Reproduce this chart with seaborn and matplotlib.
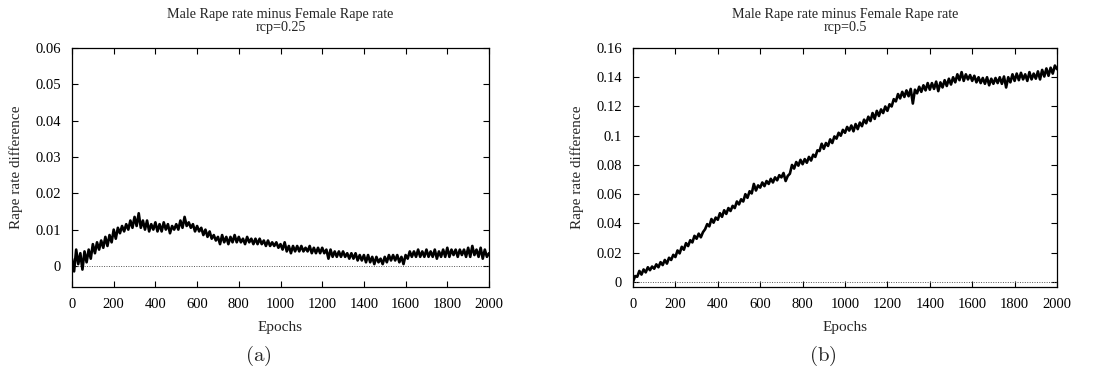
import numpy as np
import pandas as pd
import matplotlib
matplotlib.use("Agg")
import matplotlib.pyplot as plt
from matplotlib.ticker import FuncFormatter, MultipleLocator
import seaborn as sns

epochs = list(range(0, 2001, 10))

diff_rcp025 = [
    2.0, -1.5, 4.5, 0.5, 3.5, -1.0, 4.0, 1.0, 4.5, 2.0,
    6.0, 3.5, 6.5, 4.5, 7.0, 5.0, 8.0, 5.5, 8.5, 6.5,
    10.0, 7.5, 10.5, 9.0, 11.0, 9.5, 11.5, 10.0, 12.5, 10.5,
    13.5, 11.0, 14.5, 10.5, 12.5, 10.0, 12.5, 9.5, 11.5, 10.0,
    12.0, 9.5, 11.5, 9.5, 12.0, 10.0, 11.5, 9.0, 11.0, 10.0,
    11.5, 10.0, 12.5, 10.5, 13.5, 11.0, 12.0, 10.5, 11.5, 9.5,
    11.0, 9.5, 10.5, 8.5, 10.0, 8.0, 9.5, 7.5, 8.5, 7.0,
    8.0, 6.0, 8.5, 6.5, 8.0, 6.0, 8.0, 6.5, 8.5, 6.5,
    8.0, 6.5, 7.5, 6.0, 8.0, 6.5, 7.5, 6.0, 7.5, 6.0,
    7.5, 6.0, 7.0, 5.5, 7.0, 5.5, 6.5, 5.5, 6.5, 5.0,
    6.0, 4.5, 6.5, 4.0, 5.5, 3.5, 5.5, 4.0, 5.5, 4.0,
    5.5, 4.0, 5.0, 4.0, 5.5, 3.5, 5.0, 3.5, 5.0, 3.5,
    5.0, 3.5, 4.5, 2.0, 4.5, 2.5, 4.0, 2.5, 4.0, 2.5,
    4.0, 2.5, 3.5, 2.0, 3.5, 2.0, 3.5, 1.5, 3.0, 1.5,
    3.0, 1.0, 3.0, 1.0, 2.5, 0.5, 2.5, 1.0, 2.0, 0.5,
    2.5, 1.0, 3.0, 1.5, 3.0, 1.5, 3.0, 1.0, 2.5, 0.5,
    3.0, 2.0, 4.0, 2.5, 4.0, 2.5, 4.5, 2.5, 4.0, 2.5,
    4.5, 2.5, 4.0, 2.5, 4.5, 2.0, 4.0, 2.5, 4.5, 2.5,
    5.0, 2.5, 4.5, 3.0, 4.5, 2.5, 4.5, 3.0, 4.5, 2.5,
    5.0, 2.5, 5.5, 3.0, 4.5, 2.5, 5.0, 2.0, 4.5, 2.5,
    3.5,
]

diff_rcp05 = [
    0.0, 4.0, 3.5, 7.5, 5.0, 8.5, 6.5, 10.0, 8.0, 10.5,
    9.0, 12.0, 10.0, 13.5, 11.5, 15.0, 12.5, 16.5, 15.0, 18.5,
    17.0, 21.5, 19.5, 24.0, 22.0, 26.5, 24.5, 28.5, 27.0, 31.5,
    29.5, 33.0, 30.5, 34.0, 36.0, 39.5, 38.0, 43.0, 40.5, 44.0,
    42.5, 47.0, 44.5, 49.0, 46.5, 50.5, 48.5, 52.0, 50.5, 55.0,
    53.0, 56.5, 55.0, 60.0, 57.5, 62.0, 60.5, 67.0, 62.5, 66.0,
    64.5, 68.0, 65.5, 69.0, 67.0, 70.5, 68.0, 71.5, 69.5, 73.0,
    71.5, 74.5, 69.0, 72.5, 74.0, 80.0, 77.5, 82.0, 79.5, 83.5,
    80.5, 84.0, 81.5, 85.5, 83.0, 87.0, 85.5, 90.0, 89.5, 94.5,
    91.0, 95.0, 93.0, 97.5, 95.0, 99.5, 98.0, 102.0, 100.0, 104.0,
    102.0, 106.0, 103.5, 107.0, 103.0, 108.0, 104.5, 109.0, 106.5, 111.0,
    108.5, 113.0, 110.0, 115.5, 111.5, 117.0, 113.5, 118.0, 115.5, 120.0,
    117.0, 121.5, 120.0, 125.0, 123.5, 128.5, 125.5, 130.0, 126.5, 131.0,
    127.0, 132.0, 122.0, 131.5, 129.0, 133.5, 130.0, 134.5, 131.0, 136.0,
    131.5, 136.0, 132.0, 137.0, 130.5, 136.5, 133.0, 138.0, 134.0, 139.0,
    135.0, 140.0, 136.5, 142.0, 138.0, 143.5, 137.5, 142.0, 138.5, 141.5,
    137.5, 141.0, 136.5, 140.0, 136.0, 139.5, 135.5, 140.0, 134.5, 139.0,
    135.5, 139.5, 136.0, 140.0, 135.5, 140.5, 133.0, 140.0, 136.5, 142.0,
    137.5, 142.5, 138.0, 143.0, 138.5, 142.0, 137.5, 143.5, 138.5, 142.5,
    139.0, 144.0, 138.5, 145.0, 140.5, 146.0, 141.0, 146.5, 142.5, 148.0,
    145.5,
]

panel_titles = ["Male Rape rate minus Female Rape rate\nrcp=0.25",
                "Male Rape rate minus Female Rape rate\nrcp=0.5"]
panel_tags = ["(a)", "(b)"]
y_limits = [(-0.0058, 0.06), (-0.0035, 0.16)]
y_steps = [0.01, 0.02]

sns.set_style("ticks")
plt.rcParams["font.family"] = ["Liberation Serif", "DejaVu Serif"]
plt.rcParams["mathtext.fontset"] = "cm"

df = pd.DataFrame({
    "Epochs": epochs + epochs,
    "diff": np.array(diff_rcp025 + diff_rcp05) / 1000.0,
    "panel": ["a"] * len(epochs) + ["b"] * len(epochs),
})

fig = plt.figure(figsize=(11.07, 3.76), dpi=100)
ax_a = fig.add_axes([72 / 1107, 89 / 376, 417 / 1107, 239 / 376])
ax_b = fig.add_axes([633 / 1107, 89 / 376, 424 / 1107, 239 / 376])

for ax, key, title, tag, ylim, step in zip(
        [ax_a, ax_b], ["a", "b"], panel_titles, panel_tags, y_limits, y_steps):
    sub = df[df["panel"] == key]
    ax.axhline(0, color="#555555", linestyle=(0, (1, 1.5)), linewidth=0.7, zorder=1)
    sns.lineplot(data=sub, x="Epochs", y="diff", ax=ax, color="black",
                 linewidth=1.9, estimator=None, zorder=3)
    ax.set_xlim(0, 2000)
    ax.set_ylim(*ylim)
    ax.xaxis.set_major_locator(MultipleLocator(200))
    ax.yaxis.set_major_locator(MultipleLocator(step))
    ax.yaxis.set_major_formatter(FuncFormatter(lambda v, p: "%g" % round(v, 4)))
    ax.tick_params(direction="in", top=True, right=True, length=4, width=0.8,
                   labelsize=10.5, pad=8, colors="black")
    for s in ax.spines.values():
        s.set_linewidth(0.9)
        s.set_color("black")
    ax.set_xlabel("Epochs", fontsize=11, labelpad=7)
    ax.set_ylabel("Rape rate difference", fontsize=11, labelpad=9)
    ax.set_title(title, fontsize=10.2, pad=12, linespacing=1.05)
    cx = (ax.get_position().x0 + ax.get_position().x1) / 2
    fig.text(cx - 0.02, 1 - 356 / 376, r"$\mathrm{%s}$" % tag, fontsize=15,
             ha="center", va="center")

fig.savefig("out.png", dpi=100)
